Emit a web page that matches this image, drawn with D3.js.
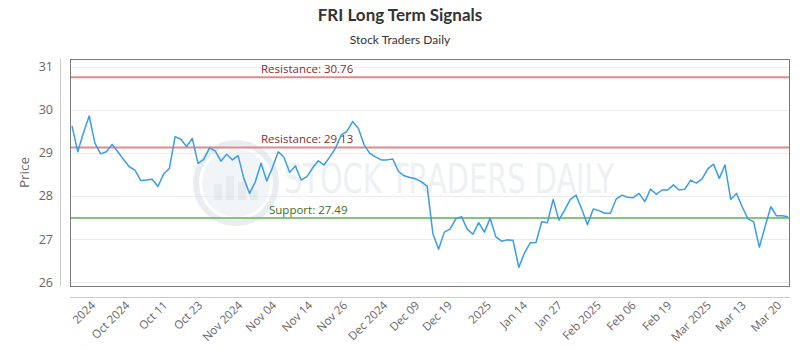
<!DOCTYPE html>
<html>
<head>
<meta charset="utf-8">
<script src="https://cdn.jsdelivr.net/npm/d3@7/dist/d3.min.js"></script>
<style>
  html, body { margin: 0; padding: 0; background: #ffffff; }
  svg { display: block; font-family: "Open Sans", "DejaVu Sans", sans-serif; }
</style>
</head>
<body>
<svg id="chart" width="800" height="350"></svg>
<script>
// ---- Data ----
const title = "FRI Long Term Signals";
const subtitle = "Stock Traders Daily";
const yAxisTitle = "Price";

const prices = [
  29.63, 29.03, 29.47, 29.86, 29.23, 28.98, 29.03, 29.20, 29.03, 28.85,
  28.68, 28.60, 28.36, 28.37, 28.39, 28.22, 28.51, 28.64, 29.38, 29.32,
  29.15, 29.34, 28.76, 28.85, 29.12, 29.05, 28.81, 28.97, 28.84, 28.94,
  28.41, 28.06, 28.33, 28.76, 28.35, 28.66, 29.03, 28.90, 28.55, 28.70,
  28.37, 28.45, 28.65, 28.82, 28.72, 28.91, 29.11, 29.42, 29.50, 29.73,
  29.57, 29.19, 28.99, 28.91, 28.84, 28.84, 28.86, 28.57, 28.47, 28.43,
  28.40, 28.33, 28.23, 27.13, 26.76, 27.16, 27.23, 27.47, 27.52, 27.23,
  27.11, 27.38, 27.16, 27.48, 27.05, 26.95, 26.98, 26.97, 26.34, 26.68,
  26.91, 26.92, 27.40, 27.38, 27.92, 27.44, 27.67, 27.92, 28.02, 27.69,
  27.33, 27.70, 27.66, 27.60, 27.60, 27.93, 28.02, 27.97, 27.96, 28.06,
  27.87, 28.16, 28.04, 28.14, 28.14, 28.26, 28.14, 28.16, 28.37, 28.30,
  28.40, 28.63, 28.74, 28.41, 28.72, 27.92, 28.06, 27.75, 27.47, 27.40,
  26.81, 27.29, 27.75, 27.54, 27.54, 27.52
];

const xTickLabels = ["2024", "Oct 2024", "Oct 11", "Oct 23", "Nov 2024", "Nov 04", "Nov 14",
  "Nov 26", "Dec 2024", "Dec 09", "Dec 19", "2025", "Jan 14", "Jan 27", "Feb 2025",
  "Feb 06", "Feb 19", "Mar 2025", "Mar 13", "Mar 20"];
const xTickAt = [4.2, 10.2, 16.8, 22.9, 29.9, 35.8, 42.1, 48.2, 55.2, 60.8, 66.5,
  73.3, 79.6, 85.7, 92.5, 98.6, 104.8, 111.7, 117.8, 124.0];

const yTicks = [26, 27, 28, 29, 30, 31];

const levelNames = ["Resistance", "Resistance", "Support"];
const levelValues = [30.76, 29.13, 27.49];
const levelKinds = ["res", "res", "sup"];

// ---- Layout ----
const svg = d3.select("#chart");
const plot = { left: 70, right: 790, top: 59, bottom: 286 };

const x = d3.scaleLinear().domain([0, prices.length - 1]).range([72, 788]);
const y = d3.scaleLinear().domain([25.907, 31.186]).range([plot.bottom, plot.top]);

const colors = {
  line: "#3a9de6",
  res: "#e08a8a", resText: "#8b2c2c",
  sup: "#86c47e", supText: "#3b6e22",
  grid: "#ececec", axisText: "#666666", title: "#333333"
};

// Title
svg.append("text").attr("x", 400).attr("y", 21).attr("text-anchor", "middle")
  .attr("font-family", "Lato, 'Open Sans', sans-serif")
  .attr("font-size", 17).attr("font-weight", "bold").attr("fill", colors.title).text(title);
svg.append("text").attr("x", 400).attr("y", 44).attr("text-anchor", "middle")
  .attr("font-family", "Lato, 'Open Sans', sans-serif")
  .attr("font-size", 12).attr("fill", colors.title).text(subtitle);

// Gridlines
svg.append("g").selectAll("line").data(yTicks).join("line")
  .attr("x1", plot.left).attr("x2", plot.right)
  .attr("y1", d => Math.round(y(d)) + 0.5).attr("y2", d => Math.round(y(d)) + 0.5)
  .attr("stroke", colors.grid).attr("stroke-width", 1);

// Watermark
const wm = svg.append("g").attr("opacity", 0.5);
wm.append("circle").attr("cx", 236).attr("cy", 183).attr("r", 40)
  .attr("fill", "none").attr("stroke", "#d4dde6").attr("stroke-width", 6);
wm.append("circle").attr("cx", 236).attr("cy", 183).attr("r", 34)
  .attr("fill", "#e6ecf2");
[[-18, 16], [-6, 24], [6, 18], [18, 10]].forEach(([dx, h]) => {
  wm.append("rect").attr("x", 236 + dx - 4).attr("y", 200 - h).attr("width", 8).attr("height", h)
    .attr("fill", "#d0d9e2");
});
wm.append("text").attr("x", 284).attr("y", 193)
  .attr("font-family", "'DejaVu Sans Condensed', 'Liberation Sans Narrow', sans-serif")
  .attr("font-size", 40).attr("fill", "#dde4ea")
  .attr("textLength", 330).attr("lengthAdjust", "spacingAndGlyphs")
  .text("STOCK TRADERS DAILY");

// Level lines
const levels = levelValues.map((v, i) => ({ v, name: levelNames[i], kind: levelKinds[i] }));
svg.append("g").selectAll("line").data(levels).join("line")
  .attr("x1", plot.left).attr("x2", plot.right)
  .attr("y1", d => y(d.v)).attr("y2", d => y(d.v))
  .attr("stroke", d => d.kind === "res" ? colors.res : colors.sup).attr("stroke-width", 2);
svg.append("g").selectAll("text").data(levels).join("text")
  .attr("x", d => d.kind === "res" ? 261 : 269)
  .attr("y", d => y(d.v) - 4)
  .attr("font-size", 11.5)
  .attr("fill", d => d.kind === "res" ? colors.resText : colors.supText)
  .text(d => `${d.name}: ${d.v.toFixed(2)}`);

// Price line
svg.append("path").datum(prices)
  .attr("d", d3.line().x((d, i) => x(i)).y(d => y(d)))
  .attr("fill", "none").attr("stroke", colors.line).attr("stroke-width", 1.5)
  .attr("stroke-linejoin", "round");

// Plot border
svg.append("rect").attr("x", plot.left + 0.5).attr("y", plot.top + 0.5)
  .attr("width", plot.right - plot.left - 1).attr("height", plot.bottom - plot.top)
  .attr("fill", "none").attr("stroke", "#7a7a7a").attr("stroke-width", 1);

// Y axis line and labels
svg.append("line").attr("x1", 60.5).attr("x2", 60.5).attr("y1", plot.top).attr("y2", plot.bottom)
  .attr("stroke", "#cccccc");
svg.append("g").selectAll("text").data(yTicks).join("text")
  .attr("x", 53).attr("y", d => y(d) + 4.5).attr("text-anchor", "end")
  .attr("font-size", 12.5).attr("fill", colors.axisText).text(d => d);
svg.append("text").attr("transform", `translate(29,${(plot.top + plot.bottom) / 2}) rotate(-90)`)
  .attr("text-anchor", "middle").attr("font-size", 13.5).attr("fill", colors.axisText).text(yAxisTitle);

// X axis line and labels
svg.append("line").attr("x1", plot.left).attr("x2", plot.right).attr("y1", 297.5).attr("y2", 297.5)
  .attr("stroke", "#cccccc");
svg.append("g").selectAll("text").data(xTickLabels).join("text")
  .attr("transform", (d, i) => `translate(${x(xTickAt[i])},306) rotate(-45)`)
  .attr("text-anchor", "end").attr("font-size", 11.5).attr("fill", colors.axisText).text(d => d);
</script>
</body>
</html>
